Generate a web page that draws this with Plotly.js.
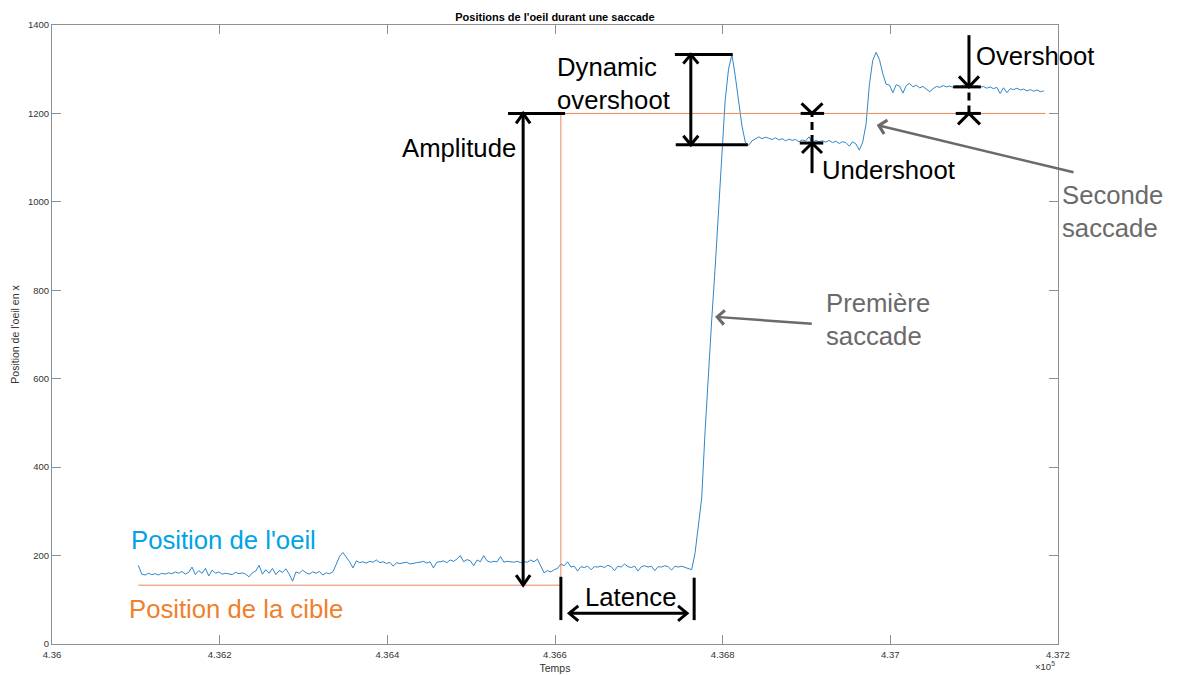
<!DOCTYPE html>
<html>
<head>
<meta charset="utf-8">
<script src="https://cdn.plot.ly/plotly-3.0.1.min.js"></script>
<style>
  html, body { margin: 0; padding: 0; background: #ffffff; }
  #chart { width: 1179px; height: 675px; }
</style>
</head>
<body>
<div id="chart"></div>
<script>
// ---- Eye position (x), one sample every 4 time units starting at sampleStart ----
const sampleStart = 436103;
const samplePeriod = 4;

const eyeFixation1 = [
  178, 158, 156, 160, 157, 159, 156, 160, 158, 161,
  159, 163, 160, 164, 158, 162, 174, 157, 166, 160,
  171, 154, 167, 160, 163, 158, 160, 159, 157, 162,
  159, 161, 158, 152, 161, 165, 178, 158, 168, 160,
  171, 157, 166, 162, 170, 158, 142, 163, 160, 167,
  161, 158, 163, 160, 164, 156, 161, 159
];
const eyeFixation2 = [
  163, 180, 198, 207, 196, 186, 172, 188, 184, 186,
  183, 187, 185, 190, 184, 186, 182, 185, 176, 184,
  182, 183, 185, 181, 183, 184, 185, 187, 183, 186,
  172, 185, 186, 188, 184, 190, 187, 192, 200, 186,
  191, 188, 177, 190, 186, 200, 188, 185, 187, 186,
  198, 185, 187, 186, 185, 187, 184, 186, 185, 190,
  186, 192, 178, 161, 166, 163, 168, 171, 181
];
const eyeLatency = [
  177, 186, 174, 176, 165, 175, 173, 176, 168, 175,
  174, 176, 173, 178, 175, 166, 176, 174, 181, 175,
  173, 176, 165, 175, 177, 174, 176, 166, 175, 174,
  177, 175, 167, 176, 174, 176, 173, 170, 168
];
const eyeSaccade1 = [
  205, 262, 330, 480, 615, 735, 850, 975, 1110, 1230,
  1300, 1333, 1285, 1232, 1172, 1135
];
const eyePlateau1 = [
  1128, 1138, 1142, 1147, 1143, 1146, 1144, 1141, 1145, 1140,
  1143, 1138, 1142, 1139, 1141, 1136, 1140, 1138, 1147, 1134,
  1139, 1136, 1138, 1135, 1139, 1134, 1137, 1132, 1136, 1134,
  1126, 1136, 1131, 1117
];
const eyeSaccade2 = [1135, 1175, 1265, 1320, 1338, 1322, 1290, 1266];
const eyePlateau2 = [
  1264, 1247, 1265, 1262, 1246, 1263, 1268, 1260, 1264, 1258,
  1261, 1255, 1249, 1256, 1261, 1259, 1263, 1260, 1262, 1259,
  1263, 1261, 1264, 1262, 1266, 1261, 1263, 1259, 1261, 1257,
  1260, 1256, 1259, 1245, 1258, 1247, 1256, 1254, 1257, 1253,
  1255, 1251, 1254, 1250, 1253, 1249, 1251
];

// ---- Target position ----
const targetTime = [436103, 436607, 436607, 437185];
const targetPos = [133, 133, 1200, 1200];

// ---- Axis ticks ----
const xTickVals = [436000, 436200, 436400, 436600, 436800, 437000, 437200];
const xTickText = ['4.36', '4.362', '4.364', '4.366', '4.368', '4.37', '4.372'];
const yTickVals = [0, 200, 400, 600, 800, 1000, 1200, 1400];

// ---- Levels and instants used by the measurement marks ----
const targetBase = 133;        // target before the step
const targetStep = 1200;       // target after the step
const targetJump = 436607;     // instant of the target step
const saccadeOnset = 436766;   // start of the first saccade
const peak1 = 1333;            // top of the first saccade
const plateau1 = 1129;         // level after the first saccade (dynamic overshoot base)
const undershootLevel = 1133;
const overshootLevel = 1260;

const eyePos = [].concat(eyeFixation1, eyeFixation2, eyeLatency, eyeSaccade1,
                         eyePlateau1, eyeSaccade2, eyePlateau2);
const eyeTime = eyePos.map((_, i) => sampleStart + i * samplePeriod);

const FONT = 'Liberation Sans, Arial, Helvetica, sans-serif';
const BLACK = '#000000';
const GREY = '#6a6a6a';
const MARK_W = 3;
const LABEL_SIZE = 25.7;

// line segment in data coordinates
function seg(x0, y0, x1, y1, opts) {
  opts = opts || {};
  return {
    type: 'line', xref: 'x', yref: 'y', x0, y0, x1, y1,
    line: { color: opts.color || BLACK, width: opts.width || MARK_W, dash: opts.dash || 'solid' }
  };
}

// open arrow head (chevron) with its tip at (t, v); size in pixels
function head(t, v, dir, half, depth) {
  half = half || 8; depth = depth || 10;
  let p;
  if (dir === 'up') p = `M${-half},${-depth} L0,0 L${half},${-depth}`;
  else if (dir === 'down') p = `M${-half},${depth} L0,0 L${half},${depth}`;
  else if (dir === 'left') p = `M${depth},${half} L0,0 L${depth},${-half}`;
  else p = `M${-depth},${half} L0,0 L${-depth},${-half}`;
  return {
    type: 'path', xref: 'x', yref: 'y', xsizemode: 'pixel', ysizemode: 'pixel',
    xanchor: t, yanchor: v, path: p,
    line: { color: BLACK, width: MARK_W }
  };
}

const shapes = [
  // Amplitude
  seg(436544, targetStep, 436612, targetStep),
  seg(436562, targetBase, 436562, targetStep),
  head(436562, targetStep, 'up', 7, 10),
  head(436562, targetBase, 'down', 7, 10),

  // Dynamic overshoot
  seg(436743, peak1, 436812, peak1),
  seg(436744, plateau1, 436830, plateau1),
  seg(436762, plateau1, 436762, peak1),
  head(436762, peak1, 'up', 7.5, 9),
  head(436762, plateau1, 'down', 7.5, 9),

  // Undershoot
  seg(436893, targetStep, 436921, targetStep),
  seg(436892, undershootLevel, 436920, undershootLevel),
  seg(436906.6, undershootLevel, 436906.6, targetStep, { dash: '8px,5px' }),
  head(436906.6, targetStep, 'down', 10.5, 10),
  seg(436906.6, 1065, 436906.6, undershootLevel),
  head(436906.6, undershootLevel, 'up', 10, 10),

  // Overshoot
  seg(437075, overshootLevel, 437108, overshootLevel),
  seg(437078, targetStep, 437108, targetStep),
  seg(437093.8, 1377, 437093.8, overshootLevel),
  head(437093.8, overshootLevel, 'down', 10, 10.5),
  seg(437093.8, targetStep, 437093.8, overshootLevel, { dash: '8px,5px' }),
  head(437093.8, targetStep, 'up', 11, 11),

  // Latence
  seg(targetJump, 54, targetJump, 152),
  seg(saccadeOnset, 54, saccadeOnset, 150),
  seg(436617, 69.4, 436757.5, 69.4),
  head(436617, 69.4, 'left', 7.5, 9),
  head(436757.5, 69.4, 'right', 7.5, 9)
];

function label(text, x, y, opts) {
  opts = opts || {};
  return {
    text, x, y,
    xref: opts.xref || 'x', yref: 'y',
    xanchor: opts.xanchor || 'left', yanchor: 'middle', align: opts.align || 'left',
    showarrow: false,
    font: { family: FONT, size: opts.size || LABEL_SIZE, color: opts.color || BLACK }
  };
}

function greyArrow(xHead, yHead, xTail, yTail) {
  return {
    text: '', x: xHead, y: yHead, ax: xTail, ay: yTail,
    xref: 'x', yref: 'y', axref: 'x', ayref: 'y',
    showarrow: true, arrowhead: 4, arrowsize: 1.1, arrowwidth: 2.5,
    arrowcolor: GREY, standoff: 0, startstandoff: 0
  };
}

const annotations = [
  label('Dynamic<br>overshoot', 436600, 1268),
  label('Amplitude', 436555.8, 1122, { xanchor: 'right' }),
  label('Undershoot', 436916, 1072),
  label('Overshoot', 437099.8, 1330),
  label('Seconde<br>saccade', 1.002, 979, { xref: 'paper', color: GREY }),
  label('Première<br>saccade', 436921, 733, { color: GREY }),
  label('Latence', 436689.5, 106, { xanchor: 'center', align: 'center' }),
  label("Position de l'oeil", 436091.8, 235, { color: '#00a3e8' }),
  label('Position de la cible', 436089.4, 79, { color: '#f0802c' }),
  greyArrow(436790.9, 740, 436908.1, 724),
  greyArrow(436983.7, 1174, 437220.3, 1066),
  {
    text: '×10<sup>5</sup>', xref: 'paper', yref: 'paper', x: 0.987, y: -0.036,
    xanchor: 'center', yanchor: 'middle', showarrow: false,
    font: { family: FONT, size: 9.5, color: '#333333' }
  }
];

const axisCommon = {
  showline: true, mirror: 'ticks', linecolor: '#8f8f8f', linewidth: 1,
  ticks: 'inside', ticklen: 9, tickwidth: 1, tickcolor: '#8f8f8f',
  showgrid: false, zeroline: false, automargin: false,
  tickfont: { family: FONT, size: 9.5, color: '#333333' }
};

const data = [
  {
    x: eyeTime, y: eyePos, type: 'scatter', mode: 'lines',
    line: { color: '#2f86c8', width: 1 }, hoverinfo: 'skip', showlegend: false
  },
  {
    x: targetTime, y: targetPos, type: 'scatter', mode: 'lines',
    line: { color: '#e8875f', width: 1 }, hoverinfo: 'skip', showlegend: false
  }
];

const layout = {
  width: 1179, height: 675,
  margin: { l: 52, r: 121, t: 25, b: 31 },
  paper_bgcolor: '#ffffff', plot_bgcolor: '#ffffff',
  font: { family: FONT, color: '#333333' },
  title: {
    text: "<b>Positions de l'oeil durant une saccade</b>",
    font: { family: FONT, size: 11, color: '#000000' },
    x: 0.5, xref: 'paper', xanchor: 'center', y: 0.975, yref: 'container', yanchor: 'middle'
  },
  xaxis: Object.assign({}, axisCommon, {
    range: [436000, 437200], tickvals: xTickVals, ticktext: xTickText,
    ticklabelstandoff: 2,
    title: { text: 'Temps', font: { family: FONT, size: 10.5, color: '#333333' }, standoff: 5 }
  }),
  yaxis: Object.assign({}, axisCommon, {
    range: [0, 1400], tickvals: yTickVals,
    title: { text: "Position de l'oeil en x", font: { family: FONT, size: 10.5, color: '#333333' }, standoff: 6 }
  }),
  shapes, annotations
};

Plotly.newPlot('chart', data, layout, { displayModeBar: false, staticPlot: true });
</script>
</body>
</html>
